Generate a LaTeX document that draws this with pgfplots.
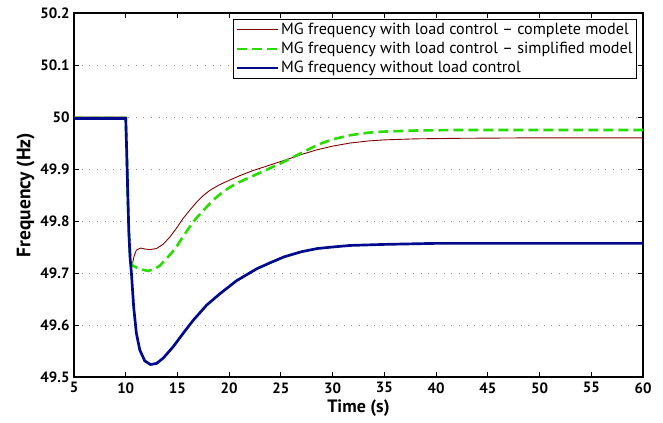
\documentclass[border=0pt]{standalone}
\usepackage{fontspec}
\setmainfont{PT Sans}
\usepackage{pgfplots}
\pgfplotsset{compat=1.18}
\definecolor{cred}{RGB}{128,0,0}
\definecolor{cgreen}{RGB}{40,220,0}
\definecolor{cblue}{RGB}{0,10,140}
\begin{document}
\begin{tikzpicture}
\path[use as bounding box] (-74bp,-46bp) rectangle (589bp,377bp);
\begin{axis}[
  scale only axis,
  width=569bp, height=364bp,
  xmin=5, xmax=60, ymin=49.5, ymax=50.2,
  xtick={5,10,...,60},
  ytick={49.5,49.6,...,50.21},
  ymajorgrids,
  grid style={dash pattern=on 1bp off 6.7bp, gray!90, line width=0.9bp},
  tick align=inside,
  major tick length=5bp,
  axis line style={line width=1.2bp},
  every tick/.style={black, line width=0.9bp},
  /pgf/number format/assume math mode=true,
  /pgf/number format/.cd, fixed, precision=1, /pgfplots/.cd,
  tick label style={font=\fontsize{15}{15}\selectfont\bfseries},
  xticklabel style={yshift=-2bp},
  yticklabel style={xshift=-1bp},
  xlabel={Time (s)},
  ylabel={Frequency (Hz)},
  xlabel style={font=\fontsize{18}{18}\selectfont\bfseries, yshift=1bp},
  ylabel style={font=\fontsize{19.5}{19.5}\selectfont\bfseries, yshift=-1bp},
  legend style={at={(0.9894,0.9835)}, anchor=north east, draw=black, line width=0.9bp,
    font=\fontsize{16.2}{16.2}\selectfont, inner sep=2pt,
    row sep=2pt, legend cell align=left},
  legend image code/.code={\draw[#1] (0bp,0bp) -- (41bp,0bp);},
  clip=true,
]
\addplot[cred, line width=0.9pt] coordinates {
(5,50.0) (10,50.0) (10.1,49.93) (10.2,49.85) (10.3,49.78) (10.42,49.73) (10.5,49.713)
(10.65,49.717) (10.8,49.732) (11.03,49.744) (11.42,49.748) (11.9,49.746) (12.32,49.745)
(12.97,49.747) (13.6,49.755) (14.26,49.769) (14.9,49.786) (15.55,49.805) (16.2,49.821)
(16.84,49.836) (17.5,49.849) (18.13,49.859) (19.0,49.869) (19.75,49.876) (21,49.887)
(22.3,49.897) (24,49.908) (25.55,49.918) (27,49.928) (28.5,49.937) (30,49.944)
(31.7,49.950) (33.5,49.954) (35,49.956) (38,49.958) (42,49.959) (50,49.960) (60,49.960)
};
\addlegendentry{MG frequency with load control -- complete model}
\addplot[cgreen, line width=2.6pt, dash pattern=on 10bp off 5bp] coordinates {
(5,49.998) (10,49.998) (10.1,49.93) (10.2,49.85) (10.3,49.78) (10.42,49.735) (10.5,49.72)
(10.7,49.714) (11.2,49.709) (11.7,49.706) (12.16,49.704) (12.7,49.707) (13.29,49.714)
(14.1,49.731) (14.9,49.750) (15.5,49.769) (16.2,49.789) (16.8,49.805) (17.49,49.820)
(18.1,49.833) (18.78,49.846) (19.4,49.856) (20.07,49.865) (21,49.875) (22,49.884)
(23,49.893) (24,49.902) (25,49.911) (26,49.921) (27,49.931) (28,49.941) (29,49.950)
(30,49.957) (31.7,49.965) (33.5,49.970) (35,49.972) (38,49.974) (42,49.975) (50,49.975) (60,49.975)
};
\addlegendentry{MG frequency with load control -- simplified model}
\addplot[cblue, line width=2.7pt] coordinates {
(5,49.997) (10,49.997) (10.1,49.93) (10.2,49.85) (10.3,49.78) (10.42,49.73) (10.55,49.70)
(10.77,49.634) (11.03,49.584) (11.36,49.552) (11.84,49.531) (12.39,49.524) (12.97,49.526)
(13.61,49.536) (14.58,49.558) (15.55,49.584) (16.52,49.609) (17.81,49.638) (19.1,49.660)
(20.7,49.685) (22.65,49.708) (24,49.720) (25.3,49.731) (27,49.741) (28.5,49.747)
(30,49.750) (31.7,49.753) (35,49.755) (40,49.757) (60,49.757)
};
\addlegendentry{MG frequency without load control}
\end{axis}
\end{tikzpicture}
\end{document}
